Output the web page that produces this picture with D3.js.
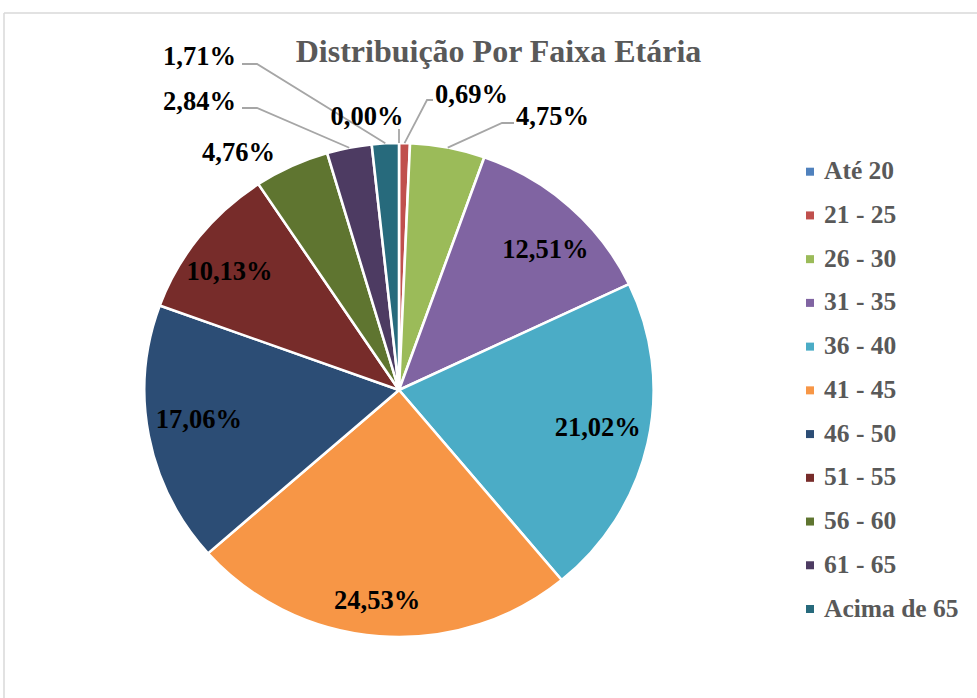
<!DOCTYPE html>
<html>
<head>
<meta charset="utf-8">
<script src="https://cdn.jsdelivr.net/npm/d3@7"></script>
<style>
html,body{margin:0;padding:0;background:#fff;}
svg{display:block;}
text{font-family:"Liberation Serif","Times New Roman",serif;font-weight:bold;}
</style>
</head>
<body>
<svg id="chart" width="977" height="698"></svg>
<script>
const categories = ["Até 20","21 - 25","26 - 30","31 - 35","36 - 40","41 - 45","46 - 50","51 - 55","56 - 60","61 - 65","Acima de 65"];
const values = [0.00, 0.69, 4.75, 12.51, 21.02, 24.53, 17.06, 10.13, 4.76, 2.84, 1.71];
const colors = ["#4F81BD","#C0504D","#9BBB59","#8064A2","#4BACC6","#F79646","#2C4D75","#772C2A","#5F7530","#4D3B62","#276A7C"];
const title = "Distribuição Por Faixa Etária";

// layout for labels placed outside the pie (index -> text anchor point, elbow)
const outsideLabels = {
  0: {x: 367, y: 125, anchor: "middle", elbow: [399, 129], end: [399, 129]},
  1: {x: 435, y: 103, anchor: "start", elbow: [427, 100], end: [433, 100]},
  2: {x: 516, y: 125, anchor: "start", elbow: [502, 123], end: [514, 123]},
  8: {x: 202, y: 161, anchor: "start"},
  9: {x: 163, y: 110, anchor: "start", elbow: [257, 108], end: [242, 108]},
  10: {x: 163, y: 65, anchor: "start", elbow: [257, 64], end: [242, 64]}
};
// layout for labels inside the pie: radius fraction and angle tweak (degrees)
const insideLayout = {
  3: {r: 0.81, da: 3.1}, 4: {r: 0.795, da: -1.5}, 5: {r: 0.858, da: 1.3},
  6: {r: 0.795, da: 2.1}, 7: {r: 0.82, da: -2.5}
};

const fmt = v => v.toFixed(2).replace(".", ",") + "%";
const svg = d3.select("#chart");

// frame
svg.append("line").attr("x1", 4).attr("y1", 13).attr("x2", 977).attr("y2", 13)
  .attr("stroke", "#d9d9d9").attr("stroke-width", 1.5);
svg.append("line").attr("x1", 4).attr("y1", 13).attr("x2", 4).attr("y2", 698)
  .attr("stroke", "#d9d9d9").attr("stroke-width", 1.5);

// title
svg.append("text").attr("x", 498.5).attr("y", 62).attr("text-anchor", "middle")
  .attr("font-size", 32).attr("fill", "#595959").text(title);

const cx = 399, cy = 390, R = 247, sx = 1.031;
const data = categories.map((c, i) => ({cat: c, value: values[i], color: colors[i], i}));
const pie = d3.pie().value(d => d.value).sort(null);
const arcs = pie(data);
const arc = d3.arc().innerRadius(0).outerRadius(R);

const g = svg.append("g").attr("transform", `translate(${cx},${cy}) scale(${sx},1)`);
g.selectAll("path").data(arcs).enter().append("path")
  .attr("d", arc).attr("fill", d => d.data.color)
  .attr("stroke", "#fff").attr("stroke-width", 2.5).attr("stroke-linejoin", "round");

const toPage = p => [cx + p[0] * sx, cy + p[1]];
const polar = (ang, r) => toPage([Math.sin(ang) * r, -Math.cos(ang) * r]);

// leader lines
arcs.forEach(a => {
  const o = outsideLabels[a.data.i];
  if (o && o.elbow) {
    const mid = (a.startAngle + a.endAngle) / 2;
    const p0 = polar(mid, R);
    svg.append("polyline")
      .attr("points", [p0, o.elbow, o.end].map(p => p.join(",")).join(" "))
      .attr("fill", "none").attr("stroke", "#a6a6a6").attr("stroke-width", 1.8);
  }
});

// data labels
arcs.forEach(a => {
  const o = outsideLabels[a.data.i];
  let x, y, anchor;
  if (o) { x = o.x; y = o.y; anchor = o.anchor; }
  else {
    const L = insideLayout[a.data.i] || {r: 0.81, da: 0};
    const mid = (a.startAngle + a.endAngle) / 2 + L.da * Math.PI / 180;
    const c = polar(mid, R * L.r);
    x = c[0]; y = c[1] + 8.5; anchor = "middle";
  }
  svg.append("text").attr("x", x).attr("y", y).attr("text-anchor", anchor)
    .attr("font-size", 26.5).attr("fill", "#000").text(fmt(a.data.value));
});

// legend
const legend = svg.append("g");
const rowY = d3.scaleLinear().domain([0, categories.length - 1]).range([171.7, 609]);
categories.forEach((c, i) => {
  legend.append("rect").attr("x", 806).attr("y", rowY(i) - 4).attr("width", 8).attr("height", 8)
    .attr("fill", colors[i]);
  legend.append("text").attr("x", 824).attr("y", rowY(i) + 7.5)
    .attr("font-size", 25.5).attr("fill", "#595959").text(c);
});
</script>
</body>
</html>
